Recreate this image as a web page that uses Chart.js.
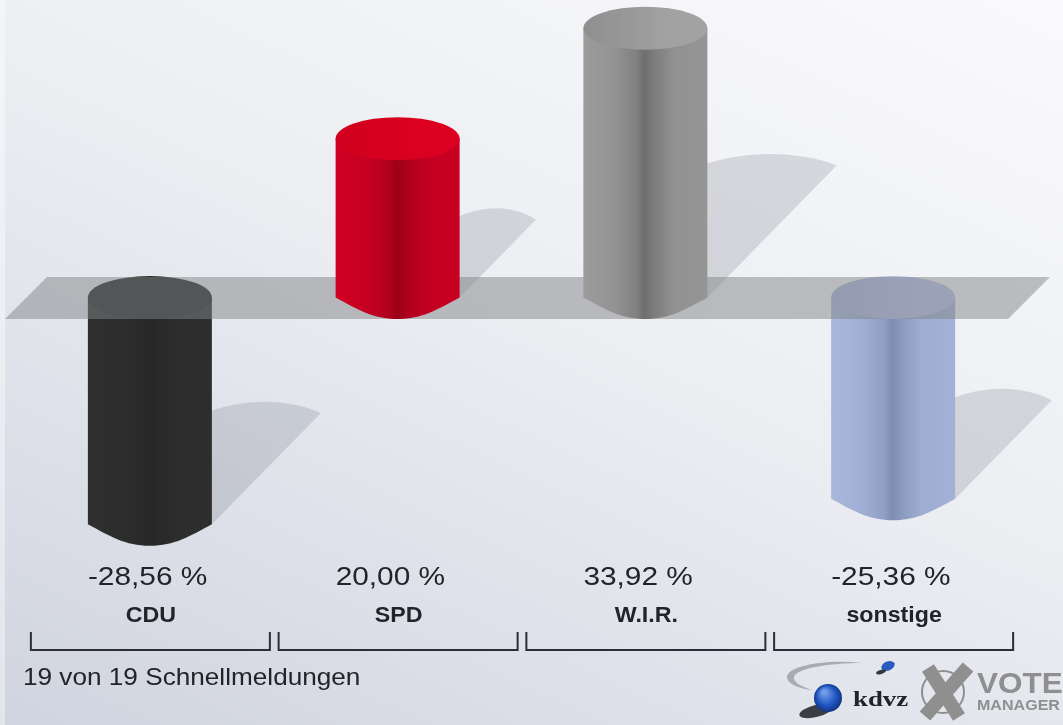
<!DOCTYPE html>
<html lang="de">
<head>
<meta charset="utf-8">
<title>Schnellmeldungen</title>
<script src="https://cdn.jsdelivr.net/npm/chart.js@4"></script>
<style>
  html, body { margin: 0; padding: 0; overflow: hidden; }
  body {
    width: 1063px; height: 725px;
    background:
      linear-gradient(rgba(255,255,255,.4), rgba(255,255,255,.4)) 0 0 / 5px 100% no-repeat,
      linear-gradient(205deg, #fafafc 0%, #eceef2 45%, #d0d4e0 100%);
  }
  canvas { display: block; }
</style>
</head>
<body>
<canvas id="chart" width="1063" height="725"></canvas>
<script>
const parties = ["CDU", "SPD", "W.I.R.", "sonstige"];
const values = [-28.56, 20.00, 33.92, -25.36];
const footerText = "19 von 19 Schnellmeldungen";

// colours per party: side edge, side centre, cap left, cap right
const edgeColors = ["#2f2f2f", "#d00024", "#9c9c9c", "#a9b7dd"];
const darkColors = ["#272727", "#9c0018", "#6e6e6e", "#7e8db2"];
const capLeftColors = ["#262626", "#d0001e", "#8f8f8f", "#a8b2da"];
const capRightColors = ["#262626", "#dc0020", "#a2a2a2", "#b4bee6"];

const FONT = '"Liberation Sans", Arial, sans-serif';
const CAP_RY = 21.5;
const TEXT_COLOR = "#222428";

const negValues = values.map(v => v < 0 ? v : null);
const posValues = values.map(v => v > 0 ? v : null);

function mix(a, b, t){
  const ca = parseInt(a.slice(1), 16), cb = parseInt(b.slice(1), 16);
  const ch = s => Math.round(((ca >> s) & 255) * (1 - t) + ((cb >> s) & 255) * t);
  return `rgb(${ch(16)},${ch(8)},${ch(0)})`;
}

// bars are drawn as cylinders, geometry still comes from the bar element
Chart.BarElement.prototype.draw = function(ctx){
  const i = this.partyIndex;
  const L = this.x - this.width / 2, R = this.x + this.width / 2;
  const top = Math.min(this.y, this.base), bot = Math.max(this.y, this.base);
  const w = this.width;

  const g = ctx.createLinearGradient(L, 0, R, 0);
  [[0, 0], [0.25, 0.2], [0.43, 0.6], [0.49, 1], [0.57, 0.7], [0.73, 0.25], [1, 0.15]].forEach(s => {
    g.addColorStop(s[0], mix(edgeColors[i], darkColors[i], s[1]));
  });

  ctx.save();
  ctx.beginPath();
  ctx.moveTo(L, top);
  ctx.lineTo(L, bot);
  ctx.bezierCurveTo(L + w * 0.18, bot + 12, L + w * 0.3, bot + CAP_RY, this.x, bot + CAP_RY);
  ctx.bezierCurveTo(R - w * 0.3, bot + CAP_RY, R - w * 0.18, bot + 12, R, bot);
  ctx.lineTo(R, top);
  ctx.closePath();
  ctx.fillStyle = g;
  ctx.fill();

  const cg = ctx.createLinearGradient(L, 0, R, 0);
  cg.addColorStop(0, capLeftColors[i]);
  cg.addColorStop(0.7, capRightColors[i]);
  ctx.beginPath();
  ctx.ellipse(this.x, top, w / 2, CAP_RY, 0, 0, Math.PI * 2);
  ctx.fillStyle = cg;
  ctx.fill();
  ctx.restore();
};

function drawShadow(ctx, bar){
  const R = bar.x + bar.width / 2;
  const top = Math.min(bar.y, bar.base), bot = Math.max(bar.y, bar.base);
  const h = bot - top;
  const dx = h * 0.48;
  const tipX = R + dx, tipY = bot - h * 0.49;
  ctx.beginPath();
  ctx.moveTo(R - 10, bot + 6);
  ctx.lineTo(R, bot);
  ctx.lineTo(tipX, tipY);
  ctx.bezierCurveTo(tipX - dx * 0.3, tipY - 15, R + dx * 0.3, tipY - 16, R - 10, tipY + 1);
  ctx.closePath();
  ctx.fillStyle = "rgba(95,100,115,0.2)";
  ctx.fill();
}

function drawPlane(ctx, chart){
  const zero = chart.scales.y.getPixelForValue(0);
  ctx.beginPath();
  ctx.moveTo(47, zero - 20.5);
  ctx.lineTo(1050, zero - 20.5);
  ctx.lineTo(1008, zero + 21.5);
  ctx.lineTo(5, zero + 21.5);
  ctx.closePath();
  ctx.fillStyle = "rgba(130,131,133,0.5)";
  ctx.fill();
}

function stretchedText(ctx, txt, x, y, font, sx, align, color){
  ctx.save();
  ctx.font = font;
  ctx.fillStyle = color || TEXT_COLOR;
  ctx.textAlign = align || "center";
  ctx.textBaseline = "alphabetic";
  ctx.translate(x, y);
  ctx.scale(sx, 1);
  ctx.fillText(txt, 0, 0);
  ctx.restore();
}

function drawLogo(ctx){
  ctx.save();
  ctx.filter = "blur(0.7px)";
  // swoosh
  ctx.beginPath();
  ctx.moveTo(862, 663);
  ctx.bezierCurveTo(825, 659, 786, 666, 787, 678);
  ctx.bezierCurveTo(788, 684, 800, 689, 812, 690);
  ctx.bezierCurveTo(800, 686, 793, 682, 794, 677);
  ctx.bezierCurveTo(797, 668, 830, 663, 862, 663);
  ctx.fillStyle = "#a9abb0";
  ctx.fill();
  // ball shadow
  ctx.beginPath();
  ctx.ellipse(816, 711, 17, 6, -0.25, 0, Math.PI * 2);
  ctx.fillStyle = "#3b3d45";
  ctx.fill();
  // big ball
  let g = ctx.createRadialGradient(824, 692, 2, 828, 698, 15);
  g.addColorStop(0, "#6f9be8");
  g.addColorStop(0.6, "#1f55c0");
  g.addColorStop(1, "#10307c");
  ctx.beginPath();
  ctx.arc(828, 698, 14, 0, Math.PI * 2);
  ctx.fillStyle = g;
  ctx.fill();
  // small ball
  ctx.beginPath();
  ctx.ellipse(888, 666, 7, 4.5, -0.4, 0, Math.PI * 2);
  ctx.fillStyle = "#2a5cc0";
  ctx.fill();
  ctx.beginPath();
  ctx.ellipse(881, 672, 5, 2, -0.3, 0, Math.PI * 2);
  ctx.fillStyle = "#33363f";
  ctx.fill();

  stretchedText(ctx, "kdvz", 853, 706, 'bold 22px "Liberation Serif", serif', 1.22, "left");

  ctx.strokeStyle = "#8f8f8f";
  ctx.lineWidth = 2;
  ctx.beginPath();
  ctx.arc(943, 692, 21, 0, Math.PI * 2);
  ctx.stroke();
  ctx.lineWidth = 14;
  ctx.beginPath();
  ctx.moveTo(928, 668);
  ctx.lineTo(959, 717);
  ctx.moveTo(968, 667);
  ctx.lineTo(925, 716);
  ctx.stroke();

  stretchedText(ctx, "VOTE", 977, 693, "bold 30px " + FONT, 1.05, "left", "#8f8f8f");
  stretchedText(ctx, "MANAGER", 977, 710, "bold 15px " + FONT, 1.07, "left", "#8f8f8f");
  ctx.restore();
}

const cylinderScene = {
  id: "cylinderScene",
  afterDatasetsUpdate(chart){
    chart.data.datasets.forEach((ds, d) => {
      chart.getDatasetMeta(d).data.forEach((bar, i) => { bar.partyIndex = i; });
    });
  },
  beforeDatasetsDraw(chart){
    const ctx = chart.ctx;
    chart.data.datasets.forEach((ds, d) => {
      chart.getDatasetMeta(d).data.forEach((bar, i) => {
        if(ds.data[i] !== null) drawShadow(ctx, bar);
      });
    });
  },
  // the plane lies over the bars that hang below it, under the ones standing on it
  afterDatasetDraw(chart, args){
    if(args.index === 0) drawPlane(chart.ctx, chart);
  },
  afterDraw(chart){
    const ctx = chart.ctx;
    const x = chart.scales.x;
    ctx.save();
    ctx.filter = "blur(0.4px)";
    parties.forEach((name, i) => {
      const cx = x.getPixelForValue(i);
      const label = values[i].toFixed(2).replace(".", ",") + " %";
      stretchedText(ctx, label, cx - 62, 585, "25.5px " + FONT, 1.17, "left");
      stretchedText(ctx, name, cx + 1, 622, "bold 21.5px " + FONT, 1.08);
      ctx.beginPath();
      ctx.moveTo(cx - 119, 632);
      ctx.lineTo(cx - 119, 650);
      ctx.lineTo(cx + 120, 650);
      ctx.lineTo(cx + 120, 632);
      ctx.strokeStyle = "#2b2e38";
      ctx.lineWidth = 2;
      ctx.stroke();
    });
    stretchedText(ctx, footerText, 23, 685, "24px " + FONT, 1.09, "left");
    ctx.restore();
    drawLogo(ctx);
  }
};

new Chart(document.getElementById("chart"), {
  type: "bar",
  data: {
    labels: parties,
    datasets: [
      { label: "Verlust", data: negValues, order: 2, grouped: false, barThickness: 124 },
      { label: "Gewinn", data: posValues, order: 1, grouped: false, barThickness: 124 }
    ]
  },
  options: {
    responsive: false,
    animation: false,
    layout: { padding: { left: 26, right: 46, top: 0, bottom: 0 } },
    plugins: { legend: { display: false }, tooltip: { enabled: false } },
    scales: {
      x: { display: false },
      y: { display: false, min: -53.84, max: 37.47 }
    }
  },
  plugins: [cylinderScene]
});
</script>
</body>
</html>
